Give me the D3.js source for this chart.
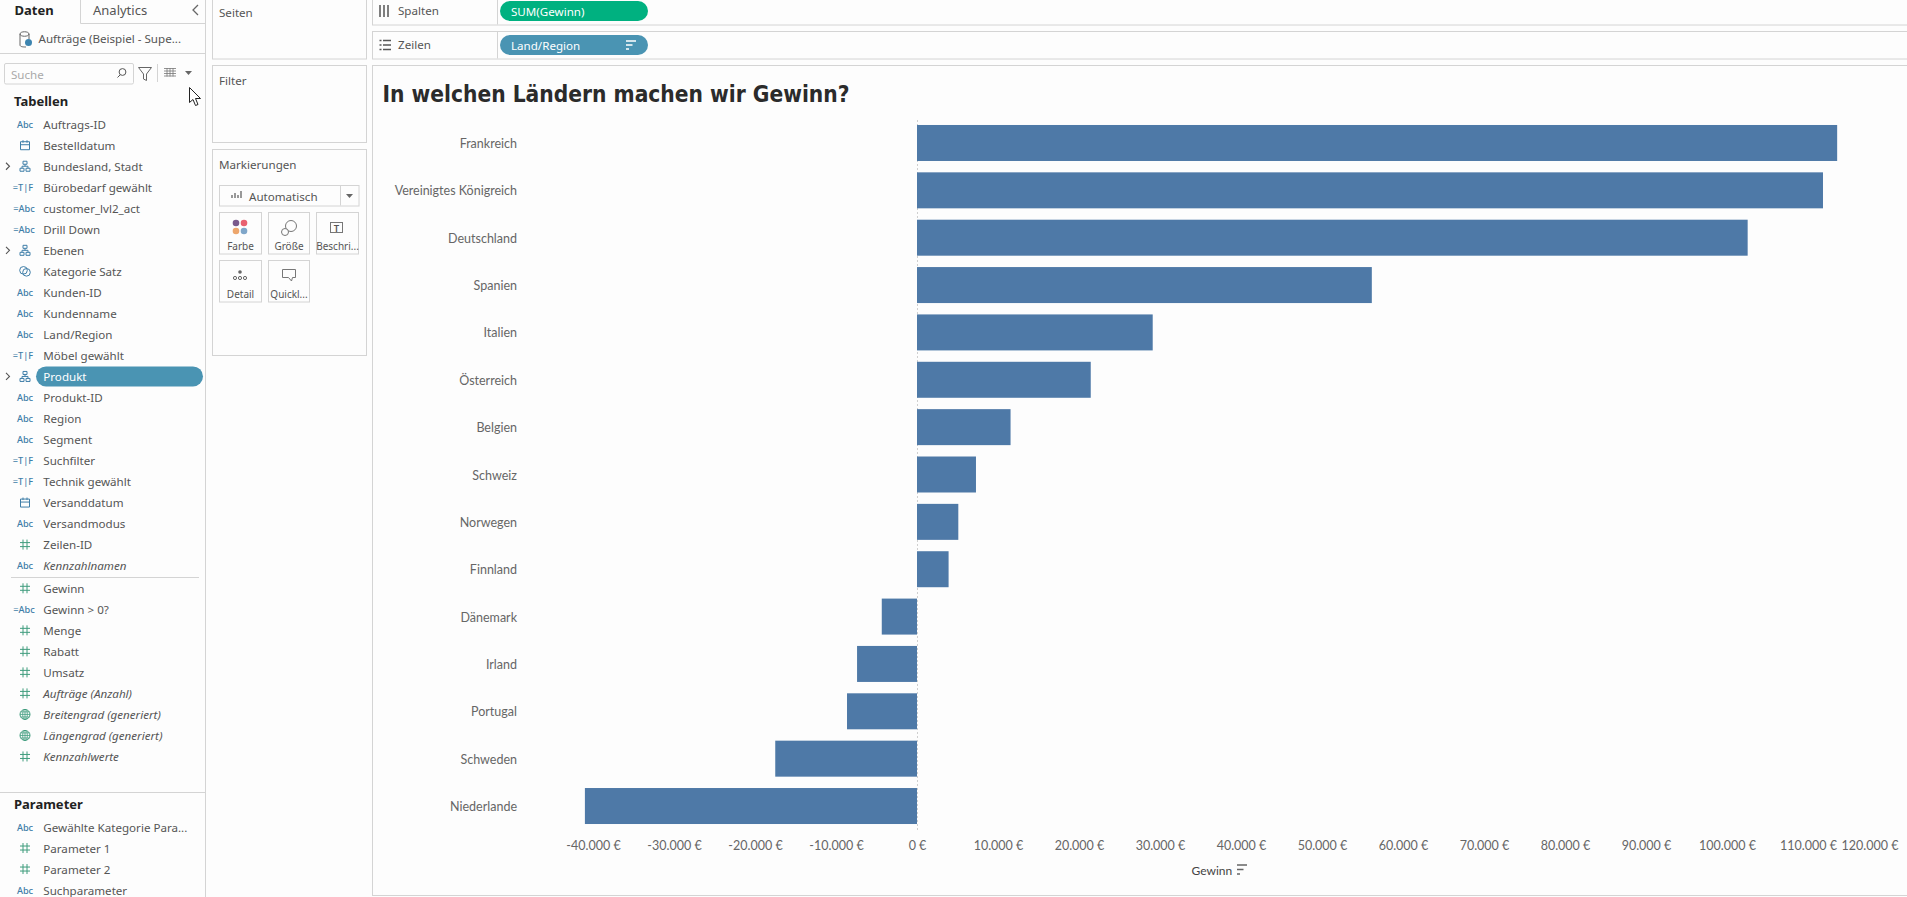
<![CDATA[<!DOCTYPE html>
<html><head><meta charset="utf-8">
<script src="https://cdnjs.cloudflare.com/ajax/libs/d3/7.8.5/d3.min.js"></script>
<style>
html,body{margin:0;padding:0;background:#fdfdfd;overflow:hidden}
svg{display:block}
text{font-family:"Lato",sans-serif}
.ui{font-family:"Noto Sans",sans-serif;font-size:11.6px;fill:#555}
.bold{font-weight:700;fill:#222}
.hand{font-family:"Lato",sans-serif;font-size:12.5px;fill:#666}
</style></head><body>
<svg id="c" width="1907" height="897"></svg>
<script>
// --- chart data ---
const countries=["Frankreich","Vereinigtes Königreich","Deutschland","Spanien","Italien","Österreich","Belgien","Schweiz","Norwegen","Finnland","Dänemark","Irland","Portugal","Schweden","Niederlande"];
const profit=[113600,111850,102550,56150,29100,21450,11550,7280,5100,3900,-4350,-7400,-8640,-17500,-41000];
const xTicks=[-40000,-30000,-20000,-10000,0,10000,20000,30000,40000,50000,60000,70000,80000,90000,100000,110000,120000];
const chartTitle="In welchen Ländern machen wir Gewinn?";
const axisTitle="Gewinn";
// --- Tableau side panel ---
const dimNames=["Auftrags-ID","Bestelldatum","Bundesland, Stadt","Bürobedarf gewählt","customer_lvl2_act","Drill Down","Ebenen","Kategorie Satz","Kunden-ID","Kundenname","Land/Region","Möbel gewählt","Produkt","Produkt-ID","Region","Segment","Suchfilter","Technik gewählt","Versanddatum","Versandmodus","Zeilen-ID","Kennzahlnamen"];
const dimTypes=["abc","cal","tree","tf","eabc","eabc","tree","set","abc","abc","abc","tf","tree","abc","abc","abc","tf","tf","cal","abc","num","abc"];
const measNames=["Gewinn","Gewinn > 0?","Menge","Rabatt","Umsatz","Aufträge (Anzahl)","Breitengrad (generiert)","Längengrad (generiert)","Kennzahlwerte"];
const measTypes=["num","eabc","num","num","num","num","geo","geo","num"];
const paramNames=["Gewählte Kategorie Para...","Parameter 1","Parameter 2","Suchparameter"];
const paramTypes=["abc","num","num","abc"];
const italicFields=["Kennzahlnamen","Aufträge (Anzahl)","Breitengrad (generiert)","Längengrad (generiert)","Kennzahlwerte"];
const markCards=["Farbe","Größe","Beschri...","Detail","Quickl..."];

const svg=d3.select("#c");
const W=1907,H=897,LINE="#d4d4d4",BLUE="#4e79a7",PILL="#4a94b3",GREEN="#00b180";
const fmt=v=>(v<0?"-":"")+d3.format(",")(Math.abs(v)).replace(/,/g,".")+" €";

svg.append("rect").attr("width",W).attr("height",H).attr("fill","#fdfdfd");
const box=(x,y,w,h,g=svg,fill="none")=>g.append("rect").attr("x",x+.5).attr("y",y+.5).attr("width",w).attr("height",h).attr("fill",fill).attr("stroke",LINE).attr("stroke-width",1);
const line=(x1,y1,x2,y2,c=LINE,g=svg)=>g.append("line").attr("x1",x1).attr("y1",y1).attr("x2",x2).attr("y2",y2).attr("stroke",c);
const text=(s,x,y,cls="ui",g=svg)=>g.append("text").attr("class",cls).attr("x",x).attr("y",y).attr("dominant-baseline","central").text(s);

// ---- left panel ----
line(205.5,0,205.5,H);
line(80.5,0,80.5,23.5);line(80.5,23.5,205.5,23.5);
text("Daten",14.5,10,"ui bold").style("font-size","13px");
text("Analytics",93,10).style("font-size","13px");
svg.append("path").attr("d","M198 5l-5 5 5 5").attr("fill","none").attr("stroke","#666").attr("stroke-width",1.3);
svg.append("path").attr("d","M20 34c0-3 9-3 9 0v5m-9-5v11c0 2 4 2 6 2m-6-13c0 3 9 3 9 0").attr("fill","none").attr("stroke","#666");
svg.append("circle").attr("cx",28.5).attr("cy",42.5).attr("r",3.5).attr("fill","#3d85b0");
text("Aufträge (Beispiel - Supe...",38.5,38);
line(0,53.5,205,53.5);
svg.append("rect").attr("x",4.5).attr("y",63.5).attr("width",129).attr("height",20.5).attr("rx",1.5).attr("fill","none").attr("stroke",LINE);
text("Suche",11,74).style("fill","#aaa");
svg.append("circle").attr("cx",122.5).attr("cy",72).attr("r",3.4).attr("fill","none").attr("stroke","#555");
line(120,75,117.5,77.5,"#555");
svg.append("path").attr("d","M138.500 67.500h13l-5 6.500v6.500l-3-1.500v-5z").attr("fill","none").attr("stroke","#666");
line(157.5,64,157.5,82);
svg.append("path").attr("d","M164 68.500h12M164 71h12M164 73.500h12M164 76h12M167 68v8.500M170 68v8.500M173 68v8.500").attr("stroke","#777").attr("stroke-width",.8);
svg.append("path").attr("d","M185 71h7l-3.500 4z").attr("fill","#666");
text("Tabellen",14,101,"ui bold").style("font-size","13px");

function icon(t,y){
  const g=svg.append("g").attr("transform",`translate(25,${y})`);
  const blue="#3f7ea8",grn="#3f9c7d";
  const small=(s,x,c=blue)=>g.append("text").attr("x",x).attr("y",0).attr("text-anchor","middle").attr("dominant-baseline","central").attr("fill",c).style("font-family","'Noto Sans'").style("font-size","9.2px").style("font-weight",500).text(s);
  const p=(d,c=blue,w=1)=>g.append("path").attr("d",d).attr("fill","none").attr("stroke",c).attr("stroke-width",w);
  if(t==="abc")small("Abc",0);
  if(t==="eabc")small("=Abc",-1);
  if(t==="tf")small("=T|F",-2);
  if(t==="cal"){p("M-4.500-3.500h9v8h-9zM-4.500-.5h9M-2-5v2.500M2-5v2.500");}
  if(t==="tree"){p("M-2-5h4v3h-4zM-5 2h4v3h-4zM1 2h4v3h-4zM0-2v2M-3 2V0h6v2");}
  if(t==="set"){g.append("circle").attr("cx",-1.500).attr("cy",-1).attr("r",3.800).attr("fill","none").attr("stroke",blue);g.append("circle").attr("cx",1.500).attr("cy",1).attr("r",3.800).attr("fill","none").attr("stroke",blue);}
  if(t==="num"){p("M-2-5v10M2-5v10M-5-2h10M-5 2h10",grn);}
  if(t==="geo"){g.append("circle").attr("r",5).attr("fill","none").attr("stroke",grn);p("M-5 0h10M0-5v10M-4.300-2.500h8.600M-4.300 2.500h8.600",grn,.8);g.append("ellipse").attr("rx",2.300).attr("ry",5).attr("fill","none").attr("stroke",grn).attr("stroke-width",.8);}
}
function rows(names,types,y0){
  names.forEach((n,i)=>{
    const y=y0+i*21.02,tree=types[i]==="tree";
    if(n==="Produkt"){svg.append("rect").attr("x",36).attr("y",y-10).attr("width",167).attr("height",20).attr("rx",10).attr("fill",PILL);}
    icon(types[i],y);
    if(tree)svg.append("path").attr("d",`M6 ${y-3.500}l3.500 3.500-3.500 3.500`).attr("fill","none").attr("stroke","#555").attr("stroke-width",1.100);
    const tx=text(n,43.3,y);
    if(n==="Produkt")tx.style("fill","#fff");
    if(italicFields.includes(n))tx.style("font-style","italic");
  });
}
rows(dimNames,dimTypes,124.2);
line(11,577.5,199,577.5);
rows(measNames,measTypes,588.3);
line(0,792.5,205,792.5);
text("Parameter",14,804,"ui bold").style("font-size","13px");
rows(paramNames,paramTypes,827);

// cursor
svg.append("path").attr("d","M189.500 87.500v15l3.500-3 2.500 6 2.500-1-2.500-6h5z").attr("fill","#fff").attr("stroke","#222");

// ---- middle column ----
box(212,-2,154,60.500);text("Seiten",219,12.5);
box(212,65,154,77);text("Filter",219,80.5);
box(212,149,154,206);text("Markierungen",219,164.5);
box(219,185,139.500,20.500);line(340.500,185,340.500,205.500);
svg.append("path").attr("d","M232 198v-3M235 198v-5M238 198v-3M241 198v-7").attr("stroke","#999").attr("stroke-width",2);
text("Automatisch",249,196);
svg.append("path").attr("d","M346 194h7l-3.500 4z").attr("fill","#666");
[[219,212,42],[268,212,41],[316,212,42],[219,260,42],[268,260,41]].forEach((c,i)=>{
  box(c[0],c[1],c[2],41.500);
  svg.append("text").attr("class","ui").attr("x",c[0]+c[2]/2+.5).attr("y",c[1]+33.500).attr("text-anchor","middle").attr("dominant-baseline","central").style("font-size","10px").text(markCards[i]);
});
[["#7a5a8c",236,223],["#e8606f",244,223],["#eda66c",236,231],["#7fa6c9",244,231]].forEach(d=>svg.append("circle").attr("cx",d[1]).attr("cy",d[2]).attr("r",3.300).attr("fill",d[0]));
svg.append("circle").attr("cx",291).attr("cy",226).attr("r",5.500).attr("fill","none").attr("stroke","#777");
svg.append("circle").attr("cx",285).attr("cy",232).attr("r",3.500).attr("fill","#fdfdfd").attr("stroke","#777");
svg.append("rect").attr("x",330.500).attr("y",222.500).attr("width",12).attr("height",10).attr("fill","none").attr("stroke","#777");
svg.append("text").attr("x",336.500).attr("y",228).attr("text-anchor","middle").attr("dominant-baseline","central").attr("fill","#555").style("font-size","9px").style("font-weight",700).text("T");
svg.append("circle").attr("cx",240).attr("cy",272).attr("r",1.800).attr("fill","#666");
[235,240,245].forEach(x=>svg.append("circle").attr("cx",x).attr("cy",278).attr("r",1.600).attr("fill","none").attr("stroke","#666"));
svg.append("path").attr("d","M282.500 269.500h13v8h-3l-1 3.500-3-3.500h-6z").attr("fill","none").attr("stroke","#777");

// ---- shelves ----
box(372,-2,1540,26.500);line(497.500,0,497.500,24.500);
box(372,31,1540,27.500);line(497.500,31,497.500,58.500);
svg.append("path").attr("d","M380 5v12M384 5v12M388 5v12").attr("stroke","#555").attr("stroke-width",1.500);
svg.append("path").attr("d","M379.500 40.500h2M379.500 45h2M379.500 49.500h2M383 40.500h8M383 45h8M383 49.500h8").attr("stroke","#555").attr("stroke-width",1.500);
text("Spalten",398,10.5);text("Zeilen",398,44.5);
[["SUM(Gewinn)",1,GREEN],["Land/Region",35,PILL]].forEach(d=>{
  svg.append("rect").attr("x",500).attr("y",d[1]).attr("width",148).attr("height",20).attr("rx",10).attr("fill",d[2]);
  text(d[0],511,d[1]+10).style("fill","#fff");
});
svg.append("path").attr("d","M626 41h10M626 45h6.500M626 49h3").attr("stroke","#fff").attr("stroke-width",1.700);

// ---- view frame and chart ----
box(372,65,1540,830);
svg.append("text").attr("x",382.500).attr("y",94).attr("dominant-baseline","central")
  .style("font-family","'DejaVu Sans'").style("font-weight",700).style("font-size","23px").attr("fill","#2b2b2b")
  .attr("textLength",467).attr("lengthAdjust","spacingAndGlyphs").text(chartTitle);

const y=d3.scaleBand().domain(countries).range([119.3,829.7]).paddingInner(.24).paddingOuter(.12);
const x=d3.scaleLinear().domain([-45000,120000]).range([917-364.5,917+972]);

line(x(0)+.5,120,x(0)+.5,830,"#cfcfcf").attr("stroke-dasharray","2 2");

svg.append("g").selectAll("rect").data(countries).join("rect")
  .attr("x",(d,i)=>x(Math.min(0,profit[i])))
  .attr("y",d=>y(d))
  .attr("width",(d,i)=>Math.abs(x(profit[i])-x(0)))
  .attr("height",y.bandwidth())
  .attr("fill",BLUE);

const ya=svg.append("g").attr("transform","translate(517,1)").call(d3.axisLeft(y).tickSize(0).tickPadding(0));
ya.select(".domain").remove();
ya.selectAll("text").attr("class","hand").attr("fill",null);

const xa=svg.append("g").attr("transform","translate(0,845.5)").call(d3.axisBottom(x).tickValues(xTicks).tickFormat(fmt).tickSize(0).tickPadding(0));
xa.select(".domain").remove();
xa.selectAll("text").attr("class","hand").attr("fill",null).attr("y",0).attr("dy",null).attr("dominant-baseline","central");
xa.selectAll("text").filter(d=>d===120000).attr("text-anchor","end").attr("dx",9);

svg.append("text").attr("class","hand").attr("x",1191.5).attr("y",870).attr("dominant-baseline","central").style("font-size","12px").style("fill","#444").text(axisTitle);
svg.append("path").attr("d","M1237 865h10M1237 869.500h6.500M1237 874h3").attr("stroke","#666").attr("stroke-width",1.700);
</script></body></html>]]>
